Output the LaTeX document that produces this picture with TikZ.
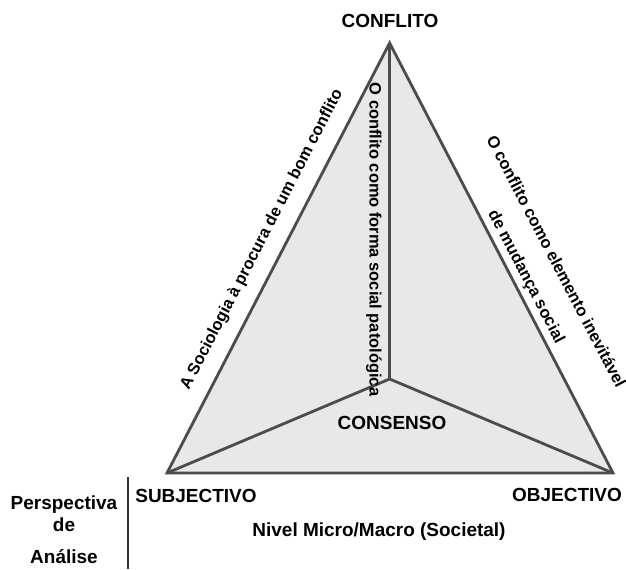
\documentclass[tikz,border=0pt]{standalone}
\usepackage{fontspec}
\setmainfont{Liberation Sans}
\usepackage{tikz}

\begin{document}
\begin{tikzpicture}[thick,
    edge/.style={draw=black!70, line width=2pt, line join=miter},
    big/.style={font=\fontsize{13.5}{16}\selectfont\bfseries},
    side/.style={font=\fontsize{11.7}{14}\selectfont\bfseries, align=center}]
    \useasboundingbox (0, 0) rectangle (15.65, 14.225);

    \coordinate (A) at (9.74, 13.15);   % conflito
    \coordinate (L) at (4.175, 2.4);    % subjectivo
    \coordinate (R) at (15.325, 2.4);   % objectivo
    \coordinate (C) at (9.74, 4.75);    % consenso
    \coordinate (S1) at (3.2, 2.3);
    \coordinate (S2) at (3.2, 0);

    \fill[black!9] (A) -- (R) -- (L) -- cycle;
    \draw[edge] (A) -- (R) -- (L) -- cycle;
    \draw[edge] (L) -- (C) -- (R);
    \draw[edge] (C) -- (A);
    \draw[edge, line width=1.5pt, draw=black!80] (S1) -- (S2); % separador

    \node[big] (conf) at (9.75, 13.7) {CONFLITO};
    \node[big] (cons) at (9.8, 3.65) {CONSENSO};
    \node[big] (subj) at (4.9, 1.825) {SUBJECTIVO};
    \node[big] (obj) at (14.175, 1.85) {OBJECTIVO};
    \node[big] (nivel) at (9.475, 0.925) {Nivel Micro/Macro (Societal)};

    \node[big] (persp) at (1.6, 1.6) {Perspectiva};
    \node[big] (de) at (1.6, 1.1) {de};
    \node[big] (anal) at (1.6, 0.3) {Análise};

    \node[side, rotate=62.7] (esq) at (6.55, 8.225) {A Sociologia à procura de um bom conflito};
    \node[side, rotate=-90] (meio) at (9.35, 8.24) {O conflito como forma social patológica};
    \node[side, rotate=-62.4] (dir) at (13.51, 7.49) {O conflito como elemento inevitável\\[9.5pt]de mudança social};
\end{tikzpicture}
\end{document}
